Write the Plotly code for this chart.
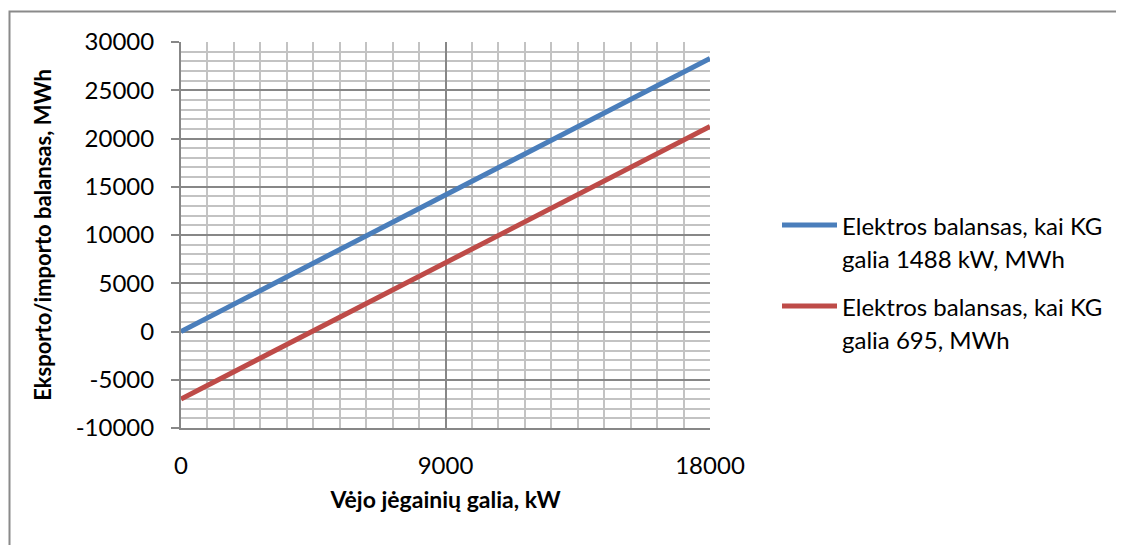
import plotly.graph_objects as go

# Data
wind_power_kw = [0, 18000]
balance_1488 = [0, 28300]
balance_695 = [-7000, 21250]
series_names = ["Elektros balansas, kai KG galia 1488 kW, MWh",
                "Elektros balansas, kai KG galia 695, MWh"]
legend_lines = [["Elektros balansas, kai KG", "galia 1488 kW, MWh"],
                ["Elektros balansas, kai KG", "galia 695, MWh"]]
x_ticks = [0, 9000, 18000]
y_ticks = [-10000, -5000, 0, 5000, 10000, 15000, 20000, 25000, 30000]

colors = ["#4A7EBB", "#BE4B48"]
FONT = "Lato"
OFF = 8  # default page body margin
W, H = 1124 - OFF, 545 - OFF
# plot area in page coordinates: x 181..710, y 42..428
PL, PR, PT, PB = 181, 710, 42, 428
L, T = PL - OFF, PT - OFF
R = (W + OFF) - PR
B = (H + OFF) - PB
PW, PH = PR - PL, PB - PT

def px(X):
    return (X - PL) / PW

def py(Y):
    return (PB - Y) / PH

fig = go.Figure()
for ys, name, c in zip([balance_1488, balance_695], series_names, colors):
    fig.add_trace(go.Scatter(x=wind_power_kw, y=ys, mode="lines", name=name,
                             line=dict(color=c, width=5), showlegend=False))

grid_major = "#878787"
grid_minor = "#C3C3C3"

fig.update_xaxes(
    range=[0, 18000], tickvals=x_ticks, ticktext=[str(v) for v in x_ticks],
    showgrid=True, gridcolor=grid_major, gridwidth=1.5,
    minor=dict(dtick=900, tick0=0, showgrid=True, gridcolor=grid_minor, gridwidth=1.5),
    showline=True, linecolor=grid_major, linewidth=2, mirror=False,
    zeroline=False, ticks="", ticklabelstandoff=15,
    tickfont=dict(family=FONT, size=24, color="#000000"),
    title=dict(text="<b>Vėjo jėgainių galia, kW</b>",
               font=dict(family=FONT, size=23, color="#000000"), standoff=14),
)
fig.update_yaxes(
    range=[-10000, 30000], tickvals=y_ticks, ticktext=[str(v) for v in y_ticks],
    showgrid=True, gridcolor=grid_major, gridwidth=1.5,
    minor=dict(dtick=1000, tick0=0, showgrid=True, gridcolor=grid_minor, gridwidth=1.5),
    showline=True, linecolor=grid_major, linewidth=2,
    zeroline=False, ticks="outside", ticklen=8, tickwidth=2, tickcolor=grid_major,
    ticklabelstandoff=12,
    tickfont=dict(family=FONT, size=24, color="#000000"),
    title=dict(text="<b>Eksporto/importo balansas, MWh</b>",
               font=dict(family=FONT, size=22, color="#000000"), standoff=18),
)

shapes = [
    dict(type="rect", xref="paper", yref="paper",
         x0=px(9.5), x1=px(1140), y0=py(560), y1=py(11.5),
         line=dict(color="#8A8A8A", width=2), fillcolor="rgba(0,0,0,0)", layer="above"),
]
annotations = []
entry_y = [225, 306]
for i, (lines, c) in enumerate(zip(legend_lines, colors)):
    yy = entry_y[i]
    shapes.append(dict(type="line", xref="paper", yref="paper",
                       x0=px(782), x1=px(837), y0=py(yy), y1=py(yy),
                       line=dict(color=c, width=5)))
    for j, t in enumerate(lines):
        annotations.append(dict(text=t, xref="paper", yref="paper",
                                x=px(840), y=py(yy + 33 * j), xanchor="left", yanchor="middle",
                                showarrow=False, font=dict(family=FONT, size=24, color="#000000")))

fig.update_layout(
    width=W, height=H, autosize=False,
    margin=dict(l=L, r=R, t=T, b=B, pad=0),
    paper_bgcolor="#FFFFFF", plot_bgcolor="#FFFFFF",
    shapes=shapes, annotations=annotations, showlegend=False,
)

fig.write_html("out.html")
